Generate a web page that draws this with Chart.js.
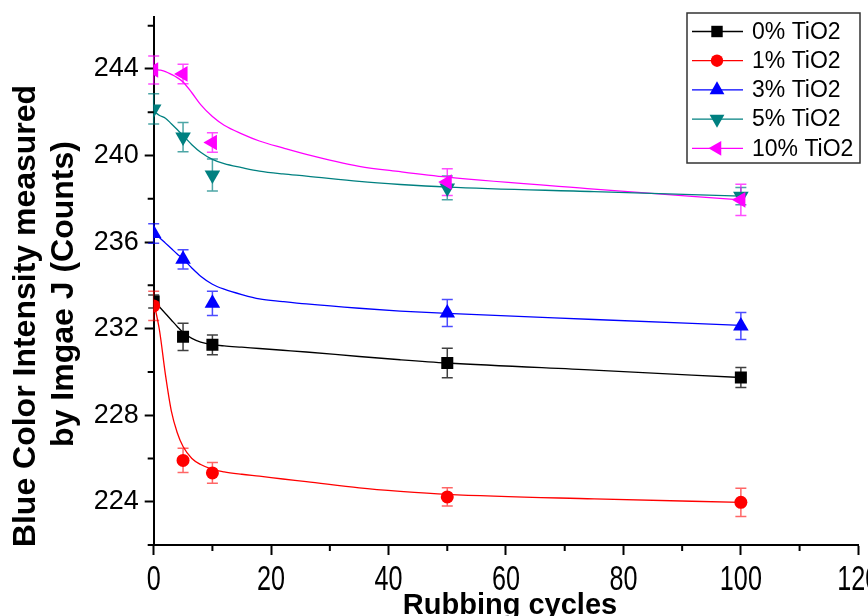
<!DOCTYPE html>
<html>
<head>
<meta charset="utf-8">
<script src="https://cdn.jsdelivr.net/npm/chart.js@4.4.1/dist/chart.umd.min.js"></script>
<style>
  html, body { margin: 0; padding: 0; background: #fff; overflow: hidden; }
</style>
</head>
<body>
<canvas id="myChart" width="887" height="637"></canvas>
<script>
const $ = document.querySelector.bind(document)
const ctx = $('#myChart')

// measured points (rubbing cycles vs. blue intensity)
const cycles = [0, 5, 10, 50, 100]
const tio2_0 = [233.25, 231.62, 231.25, 230.41, 229.74]
const tio2_1 = [233.05, 225.91, 225.33, 224.22, 223.97]
const tio2_3 = [236.4, 235.2, 233.17, 232.72, 232.12]
const tio2_5 = [242.15, 240.85, 239.1, 238.5, 238.12]
const tio2_10 = [243.95, 243.77, 240.6, 238.77, 237.95]

// standard deviations
const err_0 = [0.3, 0.63, 0.46, 0.68, 0.46]
const err_1 = [0.68, 0.56, 0.48, 0.42, 0.65]
const err_3 = [0.45, 0.44, 0.56, 0.62, 0.62]
const err_5 = [0.7, 0.68, 0.74, 0.55, 0.4]
const err_10 = [0.65, 0.45, 0.45, 0.62, 0.72]

// fitted decay curves
const fitCycles = [0, 1, 2, 3, 4, 5, 6.5, 8, 10, 12, 15, 18, 22, 26, 35, 42, 50, 75, 100]
const fit_0 = [233.3, 233.0, 232.7, 232.4, 232.1, 231.82, 231.55, 231.38, 231.26, 231.2, 231.14, 231.08, 231.0, 230.92, 230.71, 230.56, 230.41, 230.08, 229.74]
const fit_1 = [233.25, 231.9, 229.87, 228.2, 227.2, 226.55, 226.0, 225.72, 225.5, 225.38, 225.27, 225.18, 225.05, 224.93, 224.64, 224.48, 224.34, 224.13, 223.97]
const fit_3 = [236.4, 236.2, 235.95, 235.7, 235.45, 235.22, 234.8, 234.42, 234.05, 233.82, 233.57, 233.37, 233.25, 233.14, 232.94, 232.81, 232.7, 232.42, 232.15]
const fit_5 = [242.05, 241.85, 241.72, 241.47, 241.2, 240.92, 240.5, 240.15, 239.82, 239.62, 239.44, 239.28, 239.15, 239.05, 238.8, 238.66, 238.54, 238.33, 238.12]
const fit_10 = [244.0, 243.95, 243.88, 243.75, 243.6, 243.4, 242.9, 242.35, 241.8, 241.4, 241.0, 240.67, 240.35, 240.05, 239.5, 239.25, 239.0, 238.45, 237.95]

const labels = ['0% TiO2', '1% TiO2', '3% TiO2', '5% TiO2', '10% TiO2']
const xTitle = 'Rubbing cycles'
const yTitle = ['Blue Color Intensity measured', 'by Imgae J (Counts)']
const xTicks = [0, 20, 40, 60, 80, 100, 120]
const xMinor = [10, 30, 50, 70, 90, 110]
const yTicks = [224, 228, 232, 236, 240, 244]
const yMinor = [222, 226, 230, 234, 238, 242, 246]

const series = [
  { y: tio2_0, err: err_0, fit: fit_0, color: '#000000', errColor: 'rgba(0,0,0,0.75)', style: 'rect', rot: 0, r: 8.5 },
  { y: tio2_1, err: err_1, fit: fit_1, color: '#ff0000', errColor: 'rgba(255,0,0,0.6)', style: 'circle', rot: 0, r: 6.5 },
  { y: tio2_3, err: err_3, fit: fit_3, color: '#0000ff', errColor: 'rgba(0,0,255,0.7)', style: 'triangle', rot: 0, r: 9 },
  { y: tio2_5, err: err_5, fit: fit_5, color: '#008080', errColor: 'rgba(0,128,128,0.7)', style: 'triangle', rot: 180, r: 9 },
  { y: tio2_10, err: err_10, fit: fit_10, color: '#ff00ff', errColor: 'rgba(255,0,255,0.7)', style: 'triangle', rot: 270, r: 9 }
]

const toPts = (xs, ys) => xs.map((x, i) => ({ x: x, y: ys[i] }))

const datasets = []
series.forEach((s, i) => {
  datasets.push({
    label: labels[i],
    data: toPts(cycles, s.y),
    errors: s.err,
    errColor: s.errColor,
    showLine: false,
    pointStyle: s.style,
    pointRotation: s.rot,
    pointRadius: s.r,
    backgroundColor: s.color,
    borderColor: s.color,
    borderWidth: 0,
    order: 5 - i
  })
})
series.forEach((s, i) => {
  datasets.push({
    label: labels[i] + ' fit',
    data: toPts(fitCycles, s.fit),
    showLine: true,
    pointRadius: 0,
    borderColor: s.color,
    borderWidth: 1.3,
    cubicInterpolationMode: 'monotone',
    order: 10
  })
})

// vertical error bars with caps, behind the markers
const errorBars = {
  id: 'errorBars',
  beforeDatasetsDraw(chart) {
    const c = chart.ctx
    const x = chart.scales.x
    const y = chart.scales.y
    chart.data.datasets.forEach((ds) => {
      if (!ds.errors) return
      c.save()
      c.strokeStyle = ds.errColor
      c.lineWidth = 1.5
      ds.data.forEach((p, j) => {
        const px = x.getPixelForValue(p.x)
        const top = y.getPixelForValue(p.y + ds.errors[j])
        const bot = y.getPixelForValue(p.y - ds.errors[j])
        c.beginPath()
        c.moveTo(px, top); c.lineTo(px, bot)
        c.moveTo(px - 5.5, top); c.lineTo(px + 5.5, top)
        c.moveTo(px - 5.5, bot); c.lineTo(px + 5.5, bot)
        c.stroke()
      })
      c.restore()
    })
  }
}

// short minor tick marks on both axes
const minorTicks = {
  id: 'minorTicks',
  afterDraw(chart) {
    const c = chart.ctx
    const x = chart.scales.x
    const y = chart.scales.y
    const area = chart.chartArea
    c.save()
    c.strokeStyle = '#000'
    c.lineWidth = 2
    c.beginPath()
    xMinor.forEach(v => {
      const px = x.getPixelForValue(v)
      c.moveTo(px, area.bottom); c.lineTo(px, area.bottom + 6)
    })
    yMinor.forEach(v => {
      const py = y.getPixelForValue(v)
      c.moveTo(area.left, py); c.lineTo(area.left - 6, py)
    })
    c.stroke()
    c.restore()
  }
}

// x labels are tall and narrow, axis titles placed by hand
const axisText = {
  id: 'axisText',
  afterDraw(chart) {
    const c = chart.ctx
    const x = chart.scales.x
    c.save()
    c.fillStyle = '#000'
    c.textAlign = 'center'
    c.textBaseline = 'alphabetic'
    c.font = '35px "Liberation Sans", Arial, sans-serif'
    xTicks.forEach(v => {
      c.save()
      c.translate(x.getPixelForValue(v), 590)
      c.scale(0.72, 1)
      c.fillText(String(v), 0, 0)
      c.restore()
    })
    c.font = 'bold 29px "Liberation Sans", Arial, sans-serif'
    c.fillText(xTitle, 510, 614)
    c.font = 'bold 32px "Liberation Sans", Arial, sans-serif'
    const rows = [[35, 316], [73, 294]]
    yTitle.forEach((t, i) => {
      c.save()
      c.translate(rows[i][0], rows[i][1])
      c.rotate(-Math.PI / 2)
      c.fillText(t, 0, 0)
      c.restore()
    })
    c.restore()
  }
}

// boxed legend, line + marker for every series
const boxLegend = {
  id: 'boxLegend',
  afterDraw(chart) {
    const c = chart.ctx
    const left = 687, top = 13, w = 173, h = 150
    c.save()
    c.fillStyle = '#fff'
    c.fillRect(left, top, w, h)
    c.strokeStyle = '#333'
    c.lineWidth = 1.5
    c.strokeRect(left, top, w, h)
    c.font = '23px "Liberation Sans", Arial, sans-serif'
    c.textBaseline = 'middle'
    series.forEach((s, i) => {
      const cy = top + 18.5 + i * 29.2
      c.strokeStyle = s.color
      c.lineWidth = 1.3
      c.beginPath()
      c.moveTo(692, cy); c.lineTo(743, cy)
      c.stroke()
      c.fillStyle = s.color
      Chart.helpers.drawPoint(c, { pointStyle: s.style, rotation: s.rot, radius: s.r * 0.95, borderWidth: 0 }, 717, cy)
      c.fillStyle = '#000'
      c.fillText(labels[i], 752, cy + 1)
    })
    c.restore()
  }
}

const clear = 'rgba(0,0,0,0)'

window.chart = new Chart(ctx, {
  type: 'scatter',
  data: { datasets: datasets },
  plugins: [errorBars, minorTicks, axisText, boxLegend],
  options: {
    responsive: false,
    animation: false,
    layout: { padding: { left: 8, top: 17, right: 0, bottom: 0 } },
    plugins: { legend: { display: false }, tooltip: { enabled: false } },
    scales: {
      x: {
        type: 'linear',
        min: 0,
        max: 120,
        afterBuildTicks: s => { s.ticks = xTicks.map(v => ({ value: v })) },
        ticks: {
          color: clear,
          padding: 2,
          maxRotation: 0,
          font: { family: '"Liberation Sans", Arial', size: 32 }
        },
        grid: { drawOnChartArea: false, tickLength: 10, tickWidth: 2, tickColor: '#000' },
        border: { color: '#000', width: 2 },
        title: {
          display: true,
          text: xTitle,
          color: clear,
          padding: { top: 0, bottom: 0 },
          font: { family: '"Liberation Sans", Arial', size: 33, weight: 'bold' }
        }
      },
      y: {
        min: 222,
        max: 246.4,
        afterBuildTicks: s => { s.ticks = yTicks.map(v => ({ value: v })) },
        afterFit: s => { s.paddingTop = 0; s.paddingBottom = 0 },
        ticks: {
          color: '#000',
          padding: 6,
          font: { family: '"Liberation Sans", Arial', size: 27 }
        },
        grid: { drawOnChartArea: false, tickLength: 9, tickWidth: 2, tickColor: '#000' },
        border: { color: '#000', width: 2 },
        title: {
          display: true,
          text: yTitle,
          color: clear,
          padding: { top: 0, bottom: 4 },
          font: { family: '"Liberation Sans", Arial', size: 31, weight: 'bold', lineHeight: 1.22 }
        }
      }
    }
  }
})
</script>
</body>
</html>
